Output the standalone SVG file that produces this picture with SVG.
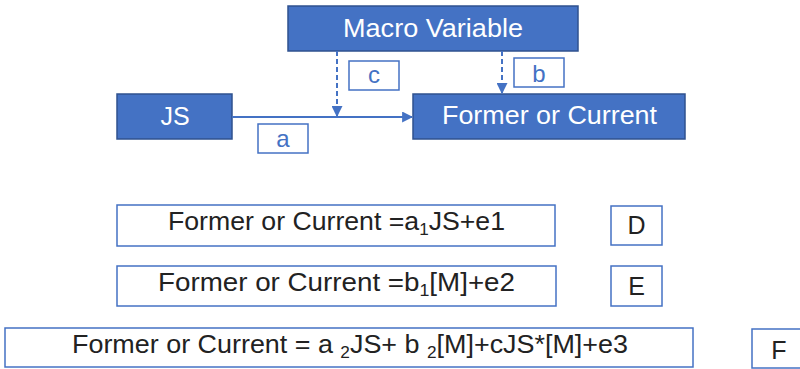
<svg xmlns="http://www.w3.org/2000/svg" width="800" height="369" viewBox="0 0 800 369">
<style>
.node{fill:#4472C4;stroke:#2F528F;stroke-width:1.5}
.ntext{fill:#ffffff;font-family:"Liberation Sans",Arial,sans-serif;font-size:25px;text-anchor:middle}
.lbl{fill:#ffffff;stroke:#4472C4;stroke-width:1.5}
.ltext{fill:#4472C4;font-family:"Liberation Sans",Arial,sans-serif;font-size:24px;text-anchor:middle}
.eq{fill:#ffffff;stroke:#4472C4;stroke-width:1.5}
.etext{fill:#222222;font-family:"Liberation Sans",Arial,sans-serif;font-size:25px}
.dtext{fill:#222222;font-family:"Liberation Sans",Arial,sans-serif;font-size:25px;text-anchor:middle}
.conn{stroke:#4472C4;stroke-width:2;fill:none}
.dash{stroke-dasharray:5,3}
</style>
<defs>
<marker id="arr" viewBox="0 0 10 10" refX="9" refY="5" markerWidth="5.5" markerHeight="5.5" orient="auto" markerUnits="strokeWidth">
<path d="M0,0 L10,5 L0,10 z" fill="#4472C4"/>
</marker>
</defs>
<g id="macro">
<rect class="node" x="288" y="6" width="290" height="45"/>
<text class="ntext" x="433" y="37" textLength="180" lengthAdjust="spacingAndGlyphs">Macro Variable</text>
</g>
<g id="js">
<rect class="node" x="117" y="94" width="115" height="45"/>
<text class="ntext" x="175" y="125">JS</text>
</g>
<g id="former">
<rect class="node" x="413" y="94" width="272" height="45"/>
<text class="ntext" x="549.5" y="124" textLength="215" lengthAdjust="spacingAndGlyphs">Former or Current</text>
</g>
<g id="connectors">
<line class="conn" x1="232" y1="117" x2="412" y2="117" marker-end="url(#arr)"/>
<line class="conn dash" x1="337" y1="51" x2="337" y2="116" marker-end="url(#arr)"/>
<line class="conn dash" x1="502" y1="51" x2="502" y2="93" marker-end="url(#arr)"/>
</g>
<g id="label-c">
<rect class="lbl" x="349" y="61" width="50" height="29"/>
<text class="ltext" x="374" y="83">c</text>
</g>
<g id="label-b">
<rect class="lbl" x="514" y="58" width="50" height="29"/>
<text class="ltext" x="539" y="82">b</text>
</g>
<g id="label-a">
<rect class="lbl" x="258" y="124" width="50" height="29"/>
<text class="ltext" x="283" y="147">a</text>
</g>
<g id="eq1">
<rect class="eq" x="117" y="205" width="438" height="41"/>
<text class="etext" x="168" y="230" textLength="337" lengthAdjust="spacingAndGlyphs">Former or Current =a<tspan font-size="16" dy="5">1</tspan><tspan dy="-5">JS+e1</tspan></text>
</g>
<g id="eq2">
<rect class="eq" x="117" y="266" width="439" height="40"/>
<text class="etext" x="158" y="291" textLength="357" lengthAdjust="spacingAndGlyphs">Former or Current =b<tspan font-size="16" dy="5">1</tspan><tspan dy="-5">[M]+e2</tspan></text>
</g>
<g id="eq3">
<rect class="eq" x="5" y="328" width="688" height="39"/>
<text class="etext" x="72" y="353" textLength="556" lengthAdjust="spacingAndGlyphs">Former or Current = a <tspan font-size="16" dy="5">2</tspan><tspan dy="-5">JS+ b </tspan><tspan font-size="16" dy="5">2</tspan><tspan dy="-5">[M]+cJS*[M]+e3</tspan></text>
</g>
<g id="D">
<rect class="eq" x="611" y="206" width="51" height="39"/>
<text class="dtext" x="636.5" y="234">D</text>
</g>
<g id="E">
<rect class="eq" x="611" y="266" width="51" height="40"/>
<text class="dtext" x="636.5" y="295">E</text>
</g>
<g id="F">
<rect class="eq" x="752" y="329" width="60" height="39"/>
<text class="dtext" x="779" y="359">F</text>
</g>
</svg>
